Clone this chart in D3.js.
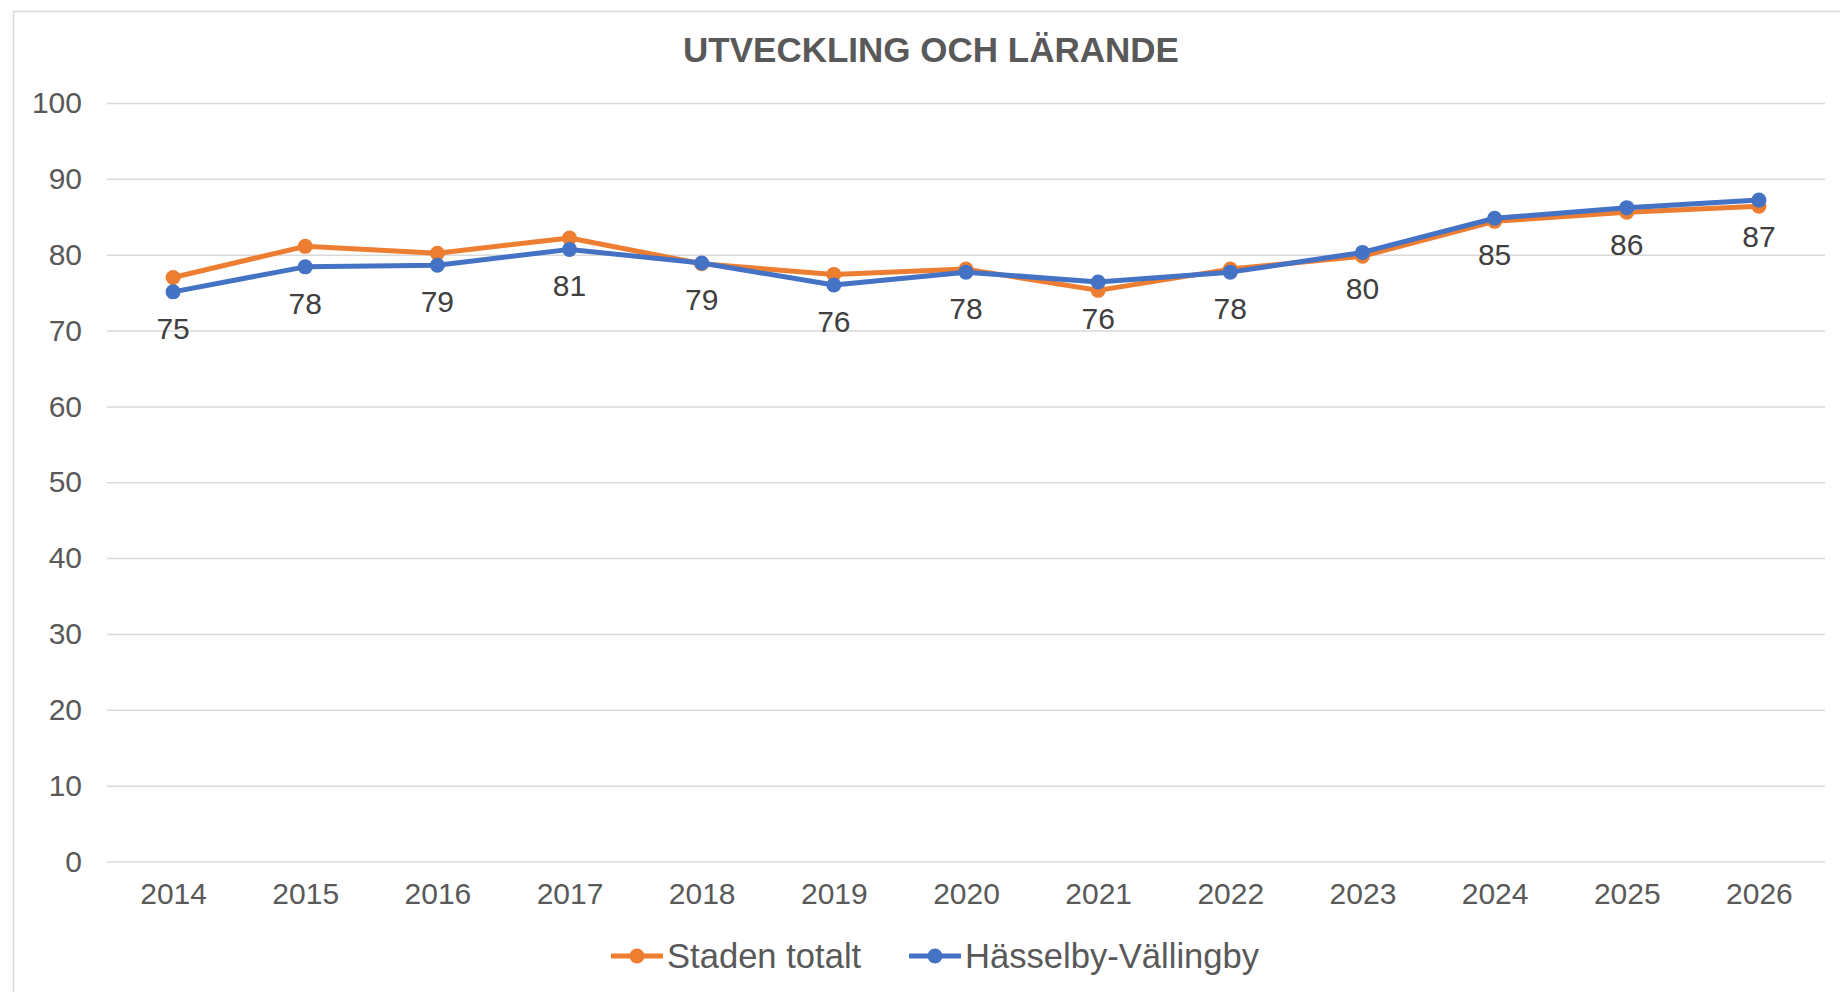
<!DOCTYPE html>
<html>
<head>
<meta charset="utf-8">
<script src="https://cdn.jsdelivr.net/npm/d3@7"></script>
<style>
  body { margin: 0; background: #fff; font-family: "Liberation Sans", Arial, sans-serif; }
  .grid line { stroke: #d9d9d9; stroke-width: 1.5px; }
  .axis text { fill: #595959; font-size: 30px; }
  .lbl { fill: #404040; font-size: 30px; }
</style>
</head>
<body>
<svg id="chart" width="1840" height="992"></svg>
<script>
var years = ['2014','2015','2016','2017','2018','2019','2020','2021','2022','2023','2024','2025','2026'];
var stadenTotalt = [77.0, 81.1, 80.2, 82.2, 78.8, 77.4, 78.1, 75.3, 78.1, 79.8, 84.4, 85.6, 86.4];
var hasselbyVallingby = [75.1, 78.4, 78.6, 80.7, 78.9, 76.0, 77.7, 76.4, 77.7, 80.3, 84.8, 86.2, 87.2];
var yTicks = [0, 10, 20, 30, 40, 50, 60, 70, 80, 90, 100];

var series = [
    {name: 'Staden totalt', values: stadenTotalt, color: '#ED7D31', labels: false},
    {name: 'Hässelby-Vällingby', values: hasselbyVallingby, color: '#4472C4', labels: true}
];

var svg = d3.select('#chart');

// chart area border (runs off the right and bottom edge like the source)
svg.append('rect')
    .attr('x', 13.5).attr('y', 11.5)
    .attr('width', 1900).attr('height', 1100)
    .attr('fill', '#fff')
    .attr('stroke', '#d9d9d9')
    .attr('stroke-width', 1.5);

svg.append('text')
    .attr('x', 931)
    .attr('y', 62)
    .attr('text-anchor', 'middle')
    .style('font-size', '35px')
    .style('font-weight', 'bold')
    .style('fill', '#595959')
    .text('UTVECKLING OCH LÄRANDE');

var plot = {left: 107, right: 1825, top: 103, bottom: 861.5};

var x = d3.scalePoint().domain(years).range([plot.left, plot.right]).padding(0.5);
var y = d3.scaleLinear().domain([0, 100]).range([plot.bottom, plot.top]);

var gy = svg.append('g')
    .attr('class', 'axis grid')
    .attr('transform', 'translate(' + plot.left + ',0)')
    .call(d3.axisLeft(y).tickValues(yTicks)
        .tickSizeInner(-(plot.right - plot.left)).tickSizeOuter(0).tickPadding(25));
gy.select('.domain').remove();

var gx = svg.append('g')
    .attr('class', 'axis')
    .attr('transform', 'translate(0,' + plot.bottom + ')')
    .call(d3.axisBottom(x).tickSize(0).tickPadding(21));
gx.select('.domain').remove();

var line = d3.line()
    .x(function(d, i) { return x(years[i]); })
    .y(function(d) { return y(d); });

series.forEach(function(s) {
    var g = svg.append('g');
    g.append('path')
        .datum(s.values)
        .attr('d', line)
        .attr('fill', 'none')
        .attr('stroke', s.color)
        .attr('stroke-width', 5)
        .attr('stroke-linejoin', 'round');
    g.selectAll('circle')
        .data(s.values)
        .enter().append('circle')
        .attr('cx', function(d, i) { return x(years[i]); })
        .attr('cy', function(d) { return y(d); })
        .attr('r', 7.5)
        .attr('fill', s.color);
});

// data labels for Hässelby-Vällingby, under each point
series.filter(function(s) { return s.labels; }).forEach(function(s) {
    svg.append('g').selectAll('text')
        .data(s.values)
        .enter().append('text')
        .attr('class', 'lbl')
        .attr('x', function(d, i) { return x(years[i]); })
        .attr('y', function(d) { return y(d) + 47; })
        .attr('text-anchor', 'middle')
        .text(function(d) { return Math.round(d); });
});

// legend
var legendX = [611, 909];
var legend = svg.append('g');
series.forEach(function(s, i) {
    var lg = legend.append('g').attr('transform', 'translate(' + legendX[i] + ',956)');
    lg.append('line')
        .attr('x1', 0).attr('x2', 52)
        .attr('stroke', s.color).attr('stroke-width', 5);
    lg.append('circle').attr('cx', 26).attr('r', 7.5).attr('fill', s.color);
    lg.append('text')
        .attr('x', 56).attr('y', 12)
        .style('font-size', '34.6px')
        .style('fill', '#595959')
        .text(s.name);
});
</script>
</body>
</html>
